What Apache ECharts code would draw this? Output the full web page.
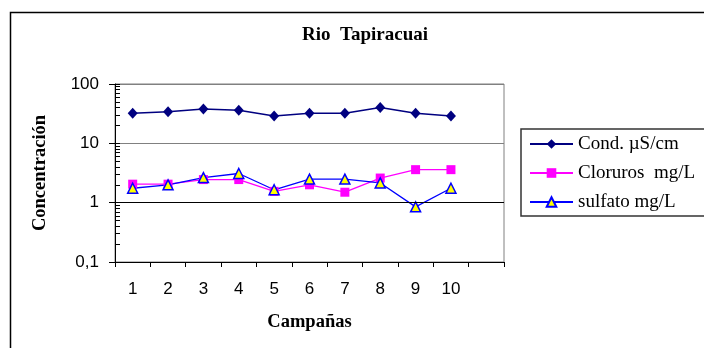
<!DOCTYPE html>
<html>
<head>
<meta charset="utf-8">
<script src="https://cdn.jsdelivr.net/npm/echarts@6/dist/echarts.min.js"></script>
<style>html,body{margin:0;padding:0;background:#fff}#c{width:704px;height:348px}</style>
</head>
<body>
<div id="c"></div>
<script>
const categories = ['1','2','3','4','5','6','7','8','9','10',''];
const seriesNames = ['Cond. µS/cm', 'Cloruros  mg/L', 'sulfato mg/L'];
const condValues = [32, 34, 38, 36, 29, 32, 32, 40, 32, 29];
const clorurosValues = [2.05, 2.05, 2.45, 2.45, 1.55, 2.0, 1.5, 2.6, 3.6, 3.6];
const sulfatoValues = [1.75, 2.0, 2.65, 3.1, 1.65, 2.5, 2.5, 2.15, 0.85, 1.75];
const yMin = 0.1, yMax = 100;
const minorTickValues = [0.2,0.3,0.4,0.5,0.6,0.7,0.8,0.9,1,2,3,4,5,6,7,8,9,10,20,30,40,50,60,70,80,90,100];

const chart = echarts.init(document.getElementById('c'));
const serif = '"Liberation Serif", "Times New Roman", serif';
const sans = '"Liberation Sans", Arial, sans-serif';
chart.setOption({
  animation: false,
  backgroundColor: '#fff',
  graphic: [{
    type: 'rect', left: 8, top: 10, shape: {x: 0, y: 0, width: 800, height: 400},
    style: {fill: 'none', stroke: '#000', lineWidth: 1.5}, z: -1, silent: true
  }],
  title: {
    text: 'Rio  Tapiracuai',
    left: 360, top: 21, textAlign: 'center',
    textStyle: {fontFamily: serif, fontWeight: 'bold', fontSize: 19, color: '#000'}
  },
  legend: {
    orient: 'vertical', left: 521, top: 129,
    padding: [5, 40, 4, 8],
    borderColor: '#333', borderWidth: 1.5,
    itemWidth: 43, itemHeight: 12, itemGap: 9,
    textStyle: {fontFamily: serif, fontSize: 19, color: '#000', lineHeight: 20},
    data: seriesNames
  },
  grid: {left: 115, right: 200, top: 84, bottom: 86, show: true, borderColor: '#808080', borderWidth: 1, containLabel: false},
  xAxis: {
    type: 'category', data: categories, boundaryGap: true,
    name: 'Campañas', nameLocation: 'middle', nameGap: 51,
    nameTextStyle: {fontFamily: serif, fontWeight: 'bold', fontSize: 18.5, color: '#000'},
    axisLine: {lineStyle: {color: '#000', width: 1}},
    axisTick: {show: true, length: 5, lineStyle: {color: '#000'}},
    axisLabel: {fontFamily: sans, fontSize: 17, color: '#000', margin: 19, interval: 0}
  },
  yAxis: [{
    type: 'log', min: yMin, max: yMax, logBase: 10,
    name: 'Concentración', nameLocation: 'middle', nameGap: 65,
    nameTextStyle: {fontFamily: serif, fontWeight: 'bold', fontSize: 18.5, color: '#000'},
    axisLine: {show: true, lineStyle: {color: '#000', width: 1}},
    axisTick: {show: true, length: 6, lineStyle: {color: '#000'}},
    axisLabel: {fontFamily: sans, fontSize: 17, color: '#000', margin: 16,
      formatter: v => String(v).replace('.', ',')},
    splitLine: {show: true, lineStyle: {color: '#808080', width: 1}}
  }, {
    type: 'log', min: yMin, max: yMax, logBase: 10, position: 'left', offset: 0,
    axisLine: {show: false},
    axisLabel: {show: false},
    splitLine: {show: false},
    axisTick: {show: true, inside: true, length: 5, customValues: minorTickValues, lineStyle: {color: '#000'}}
  }],
  series: [{
    name: seriesNames[0], type: 'line', data: condValues,
    symbol: 'diamond', symbolSize: [10, 11],
    lineStyle: {color: '#000080', width: 1.5},
    itemStyle: {color: '#000080'},
    markLine: {silent: true, symbol: 'none', label: {show: false},
      lineStyle: {color: '#000', width: 1, type: 'solid'}, data: [{yAxis: 1}]}
  }, {
    name: seriesNames[1], type: 'line', data: clorurosValues,
    symbol: 'rect', symbolSize: 9,
    lineStyle: {color: '#FF00FF', width: 1.3},
    itemStyle: {color: '#FF00FF'}
  }, {
    name: seriesNames[2], type: 'line', data: sulfatoValues,
    symbol: 'triangle', symbolSize: 10,
    lineStyle: {color: '#0000FF', width: 1.3},
    itemStyle: {color: '#FFFF00', borderColor: '#0000FF', borderWidth: 1.5}
  }]
});
</script>
</body>
</html>
